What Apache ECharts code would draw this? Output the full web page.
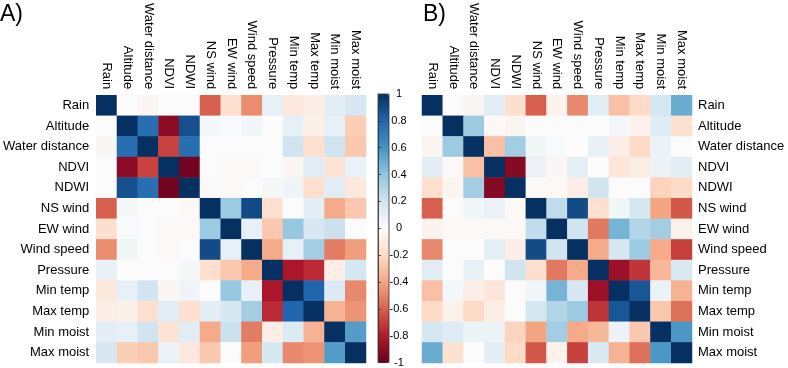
<!DOCTYPE html>
<html>
<head>
<meta charset="utf-8">
<title>Correlation heatmaps</title>
<script src="https://cdn.jsdelivr.net/npm/echarts@6/dist/echarts.min.js"></script>
<style>
  html, body { margin: 0; padding: 0; background: #fff; }
  #chart { width: 788px; height: 368px; }
</style>
</head>
<body>
<div id="chart"></div>
<script>
// variable names (rows and columns of both matrices)
var variables = ['Rain', 'Altitude', 'Water distance', 'NDVI', 'NDWI', 'NS wind', 'EW wind',
  'Wind speed', 'Pressure', 'Min temp', 'Max temp', 'Min moist', 'Max moist']

// panel A correlations, one row per variable
var corrA = [
  [1, 0, -0.03, 0, 0, -0.6, -0.17, -0.47, 0.1, -0.12, -0.08, 0.12, 0.17],
  [0, 1, 0.76, -0.9, 0.88, 0.03, 0.02, 0.05, 0, 0.1, -0.07, 0.1, -0.25],
  [-0.03, 0.76, 1, -0.68, 0.76, 0, 0, 0, 0, 0.2, -0.17, 0.2, -0.27],
  [0, -0.9, -0.68, 1, -0.97, 0, -0.01, -0.01, 0, -0.03, 0.13, -0.15, 0.08],
  [0, 0.88, 0.76, -0.97, 1, -0.01, -0.02, 0, 0.03, 0.06, -0.17, 0.13, -0.12],
  [-0.6, 0.03, 0, 0, -0.01, 1, 0.37, 0.9, -0.17, 0, 0.12, -0.38, -0.27],
  [-0.17, 0.02, 0, -0.01, -0.02, 0.37, 1, 0.1, -0.27, 0.38, 0.17, 0.22, 0],
  [-0.47, 0.05, 0, -0.02, 0, 0.9, 0.1, 1, -0.38, 0.1, 0.35, -0.52, -0.42],
  [0.1, 0, 0, 0, 0.03, -0.17, -0.27, -0.38, 1, -0.82, -0.75, -0.08, 0.18],
  [-0.12, 0.1, 0.2, -0.03, 0.06, 0, 0.38, 0.1, -0.82, 1, 0.8, 0.15, -0.48],
  [-0.08, -0.07, -0.17, 0.13, -0.17, 0.12, 0.17, 0.35, -0.75, 0.8, 1, -0.35, -0.45],
  [0.12, 0.1, 0.2, -0.15, 0.13, -0.38, 0.22, -0.52, -0.08, 0.15, -0.35, 1, 0.56],
  [0.17, -0.25, -0.27, 0.08, -0.12, -0.27, 0, -0.42, 0.18, -0.48, -0.45, 0.56, 1]
]

// panel B correlations
var corrB = [
  [1, 0, -0.04, 0.12, -0.17, -0.6, -0.05, -0.48, 0.13, -0.3, -0.2, 0.18, 0.5],
  [0, 1, 0.37, -0.02, -0.04, 0, 0, 0, 0, 0.04, -0.06, 0.14, -0.16],
  [-0.04, 0.37, 1, -0.3, 0.35, 0.05, 0.02, 0, 0.09, -0.08, -0.2, 0.07, 0],
  [0.12, -0.02, -0.3, 1, -0.92, 0.08, -0.03, 0.11, 0, -0.13, -0.09, 0.07, 0.12],
  [-0.17, -0.04, 0.35, -0.92, 1, -0.02, -0.02, -0.08, 0.2, 0, 0, -0.23, -0.2],
  [-0.6, 0, 0.05, 0.08, -0.02, 1, 0.25, 0.9, -0.17, 0.05, 0.18, -0.4, -0.62],
  [-0.05, -0.02, -0.01, -0.02, -0.02, 0.25, 1, 0.2, -0.53, 0.47, 0.3, 0.35, -0.06],
  [-0.48, 0, 0, 0.11, -0.08, 0.9, 0.2, 1, -0.38, 0.17, 0.37, -0.38, -0.69],
  [0.13, 0, 0.09, 0, 0.2, -0.17, -0.53, -0.38, 1, -0.86, -0.72, -0.33, 0.16],
  [-0.3, 0.04, -0.08, -0.13, 0, 0.05, 0.47, 0.17, -0.86, 1, 0.86, 0.07, -0.35],
  [-0.2, -0.06, -0.2, -0.09, 0, 0.18, 0.3, 0.37, -0.72, 0.86, 1, -0.27, -0.55],
  [0.18, 0.14, 0.07, 0.07, -0.23, -0.4, 0.35, -0.38, -0.33, 0.07, -0.27, 1, 0.58],
  [0.5, -0.16, 0, 0.12, -0.2, -0.62, -0.06, -0.69, 0.16, -0.35, -0.55, 0.58, 1]
]

// RdBu colour scale, from -1 up to 1 (centre lifted a little towards white)
var rdbuColors = ['#67001f', '#b2182b', '#d6604d', '#f4a582', '#fddbc7', '#fbfbfb',
  '#d1e5f0', '#92c5de', '#4393c3', '#2166ac', '#053061']
var cbarMin = -1
var cbarMax = 1
var cbarStep = 0.2

var fontFamily = 'Liberation Sans, Arial, sans-serif'

function toCells(matrix) {
  var cells = []
  matrix.forEach(function(row, i) {
    row.forEach(function(v, j) {
      cells.push([j, i, v])
    })
  })
  return cells
}

function catX(gridIndex) {
  return {
    type: 'category',
    gridIndex: gridIndex,
    data: variables,
    position: 'top',
    axisLine: { show: false },
    axisTick: { show: false },
    splitLine: { show: false },
    axisLabel: { interval: 0, rotate: 90, margin: 6, fontSize: 13, color: '#000' }
  }
}

function catY(gridIndex, side, margin) {
  return {
    type: 'category',
    gridIndex: gridIndex,
    data: variables,
    inverse: true,
    position: side,
    axisLine: { show: false },
    axisTick: { show: false },
    splitLine: { show: false },
    axisLabel: { interval: 0, margin: margin, fontSize: 13, color: '#000' }
  }
}

var chart = echarts.init(document.getElementById('chart'))

var option = {
  animation: false,
  textStyle: { fontFamily: fontFamily },
  title: [
    { text: 'A)', left: 0, top: 3, padding: 0, textStyle: { fontSize: 23, fontWeight: 'normal', color: '#000', fontFamily: fontFamily }},
    { text: 'B)', left: 423, top: 3, padding: 0, textStyle: { fontSize: 23, fontWeight: 'normal', color: '#000', fontFamily: fontFamily }}
  ],
  grid: [
    { left: 96, top: 94, width: 270, height: 269 },
    { left: 422, top: 94, width: 270, height: 269 },
    // colour bar frame
    { left: 378, top: 94, width: 11, height: 269, show: true, backgroundColor: 'transparent', borderColor: '#333', borderWidth: 0.8, z: 10 }
  ],
  xAxis: [
    catX(0),
    catX(1),
    { type: 'value', gridIndex: 2, show: false, min: 0, max: 1 }
  ],
  yAxis: [
    catY(0, 'left', 7),
    catY(1, 'right', 6),
    {
      type: 'value',
      gridIndex: 2,
      position: 'right',
      min: cbarMin,
      max: cbarMax,
      interval: cbarStep,
      z: 10,
      axisLine: { show: true, lineStyle: { color: '#333', width: 0.8 }},
      axisTick: { show: true, length: 3, lineStyle: { color: '#333', width: 0.8 }},
      splitLine: { show: false },
      axisLabel: { margin: 10, align: 'center', fontSize: 11, color: '#000' }
    }
  ],
  visualMap: {
    type: 'continuous',
    min: cbarMin,
    max: cbarMax,
    seriesIndex: [0, 1],
    orient: 'vertical',
    left: 378,
    top: 94,
    padding: 0,
    itemWidth: 11,
    itemHeight: 269,
    calculable: false,
    hoverLink: false,
    inRange: { color: rdbuColors }
  },
  series: [
    {
      type: 'heatmap',
      xAxisIndex: 0,
      yAxisIndex: 0,
      data: toCells(corrA),
      itemStyle: { borderWidth: 0 },
      emphasis: { disabled: true }
    },
    {
      type: 'heatmap',
      xAxisIndex: 1,
      yAxisIndex: 1,
      data: toCells(corrB),
      itemStyle: { borderWidth: 0 },
      emphasis: { disabled: true }
    }
  ]
}

chart.setOption(option)
</script>
</body>
</html>
